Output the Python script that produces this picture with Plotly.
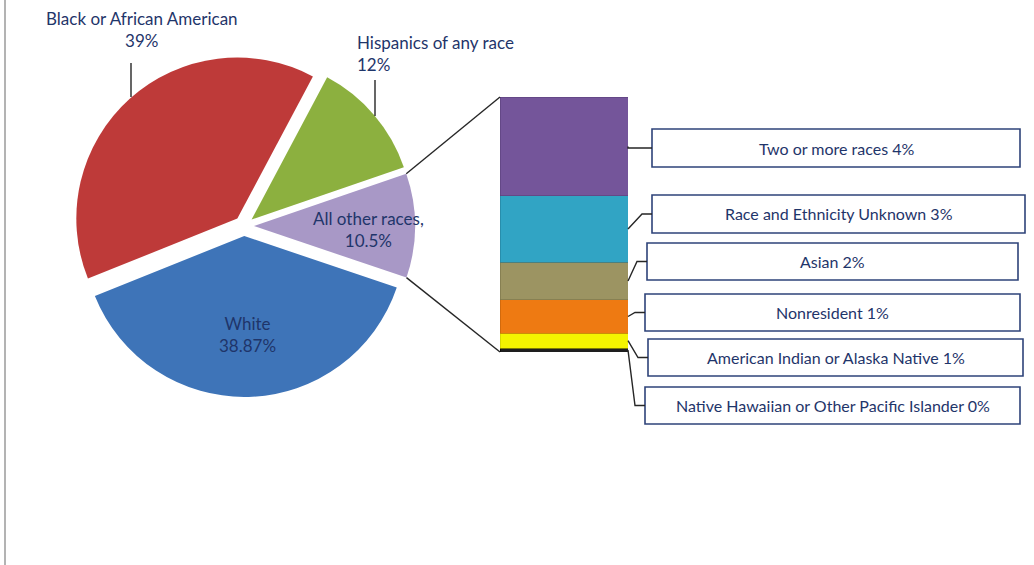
import math
import plotly.graph_objects as go

W, H = 1034, 565

# ---- data ----
pie_labels = ["Hispanics of any race", "All other races", "White", "Black or African American"]
pie_values = [12, 10.5, 38.87, 39]
pie_pct_text = ["12%", "10.5%", "38.87%", "39%"]
pie_colors = ["#8CB03F", "#A898C6", "#3E74B8", "#BE3A39"]

bar_labels = ["Native Hawaiian or Other Pacific Islander", "American Indian or Alaska Native",
              "Nonresident", "Asian", "Race and Ethnicity Unknown", "Two or more races"]
bar_values = [0.16, 0.62, 1.36, 1.56, 2.72, 4.07]
bar_pct_text = ["0%", "1%", "1%", "2%", "3%", "4%"]
bar_colors = ["#1E1E1E", "#F4F400", "#EE7A12", "#9C9462", "#31A4C4", "#74559A"]
bar_edge = ["#000000", "#C8C800", "#C05F08", "#7A7348", "#23809C", "#5A3F7C"]

TEXT = "#1F356A"
FONT = "Lato, 'Open Sans', sans-serif"


def px(x):
    return x / W


def py(y):
    return 1 - y / H


fig = go.Figure()

# ---- pie ----
cx, cy, r, pull, rot = 244, 226, 161, 0.062, 28
half = r * (1 + pull)
fig.add_trace(go.Pie(
    labels=pie_labels, values=pie_values, sort=False, direction="clockwise",
    rotation=rot, pull=pull, textinfo="none", showlegend=False,
    marker=dict(colors=pie_colors, line=dict(width=0)),
    domain=dict(x=[px(cx - half), px(cx + half)], y=[py(cy + half), py(cy - half)]),
))

# ---- stacked bar ----
bx0, bx1, by_top, by_bot = 500, 628, 97, 352
total_bar = sum(bar_values)
for lab, v, c, e in zip(bar_labels, bar_values, bar_colors, bar_edge):
    fig.add_trace(go.Bar(x=[0], y=[v], name=lab, width=1, showlegend=False,
                         marker=dict(color=c, line=dict(color=e, width=0.6))))

fig.update_layout(
    width=W, height=H, margin=dict(l=0, r=0, t=0, b=0),
    paper_bgcolor="white", plot_bgcolor="white", barmode="stack",
    xaxis=dict(domain=[px(bx0), px(bx1)], range=[-0.5, 0.5], visible=False, fixedrange=True),
    yaxis=dict(domain=[py(by_bot), py(by_top)], range=[0, total_bar], visible=False, fixedrange=True),
    font=dict(family=FONT, color=TEXT, size=16),
)

shapes = []
annotations = []
line_style = dict(color="#262626", width=1.4)

# slide frame line
shapes.append(dict(type="line", xref="paper", yref="paper", x0=px(5), x1=px(5), y0=0, y1=1,
                   line=dict(color="#9A9A9A", width=1.5)))

# ---- pie-to-bar connectors (computed from pie geometry) ----
tot = sum(pie_values)
start = rot + sum(pie_values[:1]) / tot * 360
end = start + pie_values[1] / tot * 360
mid = math.radians((start + end) / 2)
ax, ay = cx + pull * r * math.sin(mid), cy - pull * r * math.cos(mid)
for ang, ybar in ((start, by_top), (end, by_bot)):
    a = math.radians(ang)
    x0, y0 = ax + r * math.sin(a), ay - r * math.cos(a)
    shapes.append(dict(type="line", xref="paper", yref="paper", x0=px(x0), y0=py(y0),
                       x1=px(bx0), y1=py(ybar), line=line_style))

# ---- pie labels ----
pie_ann = {
    "Black or African American": dict(x=142, y=29, xanchor="center", align="center", sep="<br>"),
    "Hispanics of any race": dict(x=355, y=53, xanchor="left", align="left", sep="<br>"),
    "All other races": dict(x=368, y=230, xanchor="center", align="center", sep=",<br>"),
    "White": dict(x=247, y=334, xanchor="center", align="center", sep="<br>"),
}
for lab, pct in zip(pie_labels, pie_pct_text):
    s = pie_ann[lab]
    annotations.append(dict(xref="paper", yref="paper", x=px(s["x"]), y=py(s["y"]),
                            xanchor=s["xanchor"], yanchor="middle", align=s["align"],
                            text=f"{lab}{s['sep']}{pct}", showarrow=False,
                            font=dict(size=17, color=TEXT, family=FONT)))

# leader lines for outside pie labels
for (x, y0, y1) in ((131, 63, 97), (375, 80, 116)):
    shapes.append(dict(type="line", xref="paper", yref="paper", x0=px(x), x1=px(x),
                       y0=py(y0), y1=py(y1), line=line_style))

# ---- bar callout boxes ----
boxes = [  # x0, x1, y0, y1 (px), from bottom segment to top segment
    (645, 1020, 387, 424),
    (648, 1023, 339, 376),
    (645, 1020, 294, 331),
    (647, 1018, 243, 280),
    (652, 1025, 195, 233),
    (652, 1020, 129, 167),
]
cum = 0
for lab, v, pct, (x0, x1, y0, y1) in zip(bar_labels, bar_values, bar_pct_text, boxes):
    seg_mid = cum + v / 2
    cum += v
    y_seg = by_bot - seg_mid / total_bar * (by_bot - by_top)
    yc = (y0 + y1) / 2
    shapes.append(dict(type="rect", xref="paper", yref="paper", x0=px(x0), x1=px(x1),
                       y0=py(y1), y1=py(y0), fillcolor="white",
                       line=dict(color="#2E4379", width=1.6)))
    ex = x0 - 10 if abs(yc - y_seg) > 3 else bx1
    path = f"M {px(bx1)},{py(y_seg)} L {px(ex)},{py(yc)} L {px(x0)},{py(yc)}"
    shapes.append(dict(type="path", xref="paper", yref="paper", path=path, line=line_style))
    annotations.append(dict(xref="paper", yref="paper", x=px((x0 + x1) / 2), y=py(yc),
                            xanchor="center", yanchor="middle", text=f"{lab} {pct}",
                            showarrow=False, font=dict(size=16, color=TEXT, family=FONT)))

fig.update_layout(shapes=shapes, annotations=annotations)
fig.write_html("out.html", config={"displayModeBar": False},
               post_script="document.body.style.margin='0';")
